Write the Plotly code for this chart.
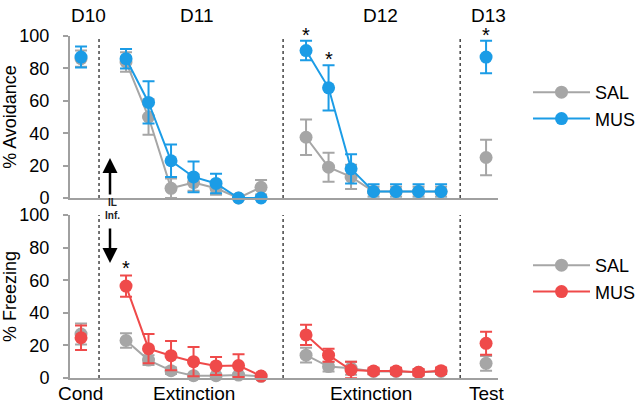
import plotly.graph_objects as go

# x positions: 0 = Cond (D10), 2..8 = D11 extinction, 10..16 = D12 extinction, 18 = Test (D13)
x_pos = [0, 1, 2, 3, 4, 5, 6, 7, 8, 9, 10, 11, 12, 13, 14, 15, 16, 17, 18]

# Top panel: % Avoidance
avoid_sal = [86, None, 84, 50, 6, 9.5, 6, 0, 6.6, None, 37.5, 19, 13, 4, 4, 4, 4, None, 25]
avoid_sal_err = [5, None, 6, 11, 6, 5, 4, 0, 4.5, None, 11, 9, 7.5, 3, 3, 3, 3, None, 11]
avoid_mus = [87, None, 86, 59, 23, 13, 9, 0, 0, None, 91, 68, 18, 4, 4, 4, 4, None, 87]
avoid_mus_err = [6.5, None, 6, 13, 10, 9.5, 6, 0, 0, None, 6, 14, 9, 4.5, 4.5, 4.5, 4.5, None, 10]

# Bottom panel: % Freezing
freeze_sal = [27, None, 23, 11, 4.5, 1.4, 1.4, 1.8, 1, None, 14, 7, 6, 4, 4, 3.5, 4, None, 9]
freeze_sal_err = [6.5, None, 4.5, 3, 2, 1, 1, 1, 1, None, 4.5, 3, 4, 1.5, 1.5, 1.5, 1.5, None, 4.5]
freeze_mus = [24.7, None, 56.4, 18, 13.7, 10, 7.4, 7.6, 1.2, None, 26.4, 14, 4.9, 4.3, 4.3, 3.5, 4.5, None, 21.3]
freeze_mus_err = [7.5, None, 6.5, 9, 9, 9, 5.5, 7, 1, None, 6.2, 4, 5, 2, 2, 2, 2, None, 7]

# significance markers (x position, y value where asterisk sits)
avoid_star_x = [10, 11, 18]
avoid_star_y = [97, 82, 97]
freeze_star_x = [2]
freeze_star_y = [63]

session_dividers = [0.8, 8.98, 16.85]
day_labels = ["D10", "D11", "D12", "D13"]
phase_labels = ["Cond", "Extinction", "Extinction", "Test"]

GRAY = "#a6a6a6"
BLUE = "#1b9ce6"
RED = "#ef4a4a"
AXIS = "#a0a0a0"
FONT = "Liberation Sans, Arial, sans-serif"

fig = go.Figure()

def add(y, err, color, name, xa, ya, legend):
    fig.add_trace(go.Scatter(
        x=x_pos, y=y, mode="lines+markers", name=name,
        line=dict(color=color, width=2),
        marker=dict(color=color, size=13),
        error_y=dict(type="data", array=err, color=color, thickness=2, width=6),
        xaxis=xa, yaxis=ya, legend=legend, cliponaxis=False, connectgaps=False,
        hoverinfo="skip",
    ))

add(avoid_sal, avoid_sal_err, GRAY, "SAL", "x", "y", "legend")
add(avoid_mus, avoid_mus_err, BLUE, "MUS", "x", "y", "legend")
add(freeze_sal, freeze_sal_err, GRAY, "SAL", "x2", "y2", "legend2")
add(freeze_mus, freeze_mus_err, RED, "MUS", "x2", "y2", "legend2")

xdom = [70 / 640, 498 / 640]
xrange_ = [-0.49, 18.53]
top_dom = [1 - 198 / 404, 1 - 36 / 404]
bot_dom = [1 - 378 / 404, 1 - 215 / 404]

xcommon = dict(domain=xdom, range=xrange_, showline=True, linecolor=AXIS, linewidth=2,
               showticklabels=False, ticks="", showgrid=False, zeroline=False, automargin=False)
ycommon = dict(range=[0, 100], tickvals=[0, 20, 40, 60, 80, 100], showline=True,
               linecolor=AXIS, linewidth=2, ticks="outside", ticklen=5, tickcolor=AXIS,
               tickwidth=2, showgrid=False, zeroline=False, automargin=False,
               ticklabelstandoff=10,
               tickfont=dict(family=FONT, size=18, color="black"),
               title_font=dict(family=FONT, size=18, color="black"), title_standoff=4)

shapes = []
for xd in session_dividers:
    for yref in ["y domain", "y2 domain"]:
        shapes.append(dict(type="line", xref="x", yref=yref, x0=xd, x1=xd, y0=0, y1=1,
                           line=dict(color="#444444", width=1.5, dash="3px,3px")))

annotations = []
for xs, ys in zip(avoid_star_x, avoid_star_y):
    annotations.append(dict(x=xs, y=ys, xref="x", yref="y", text="*", showarrow=False,
                            yanchor="bottom", font=dict(family=FONT, size=20, color="black"), yshift=-7))
for xs, ys in zip(freeze_star_x, freeze_star_y):
    annotations.append(dict(x=xs, y=ys, xref="x2", yref="y2", text="*", showarrow=False,
                            yanchor="bottom", font=dict(family=FONT, size=20, color="black"), yshift=-6))

for lab, px in zip(day_labels, [88, 196, 380, 488]):
    annotations.append(dict(x=px / 640, y=1 - 15 / 404, xref="paper", yref="paper", text=lab,
                            xanchor="center", yanchor="middle",
                            showarrow=False, font=dict(family=FONT, size=19, color="black")))
for lab, px in zip(phase_labels, [80, 194, 371, 487]):
    annotations.append(dict(x=px / 640, y=1 - 393 / 404, xref="paper", yref="paper", text=lab,
                            xanchor="center", yanchor="middle",
                            showarrow=False, font=dict(family=FONT, size=19, color="black")))

# IL infusion arrows and label
annotations.append(dict(x=110 / 640, y=1 - 158 / 404, xref="paper", yref="paper", text="",
                        showarrow=True, ax=0, ay=38, arrowhead=2, arrowsize=1.2, arrowwidth=2.5,
                        arrowcolor="black"))
annotations.append(dict(x=110 / 640, y=1 - 263 / 404, xref="paper", yref="paper", text="",
                        showarrow=True, ax=0, ay=-36, arrowhead=2, arrowsize=1.2, arrowwidth=2.5,
                        arrowcolor="black"))
annotations.append(dict(x=112 / 640, y=1 - 209 / 404, xref="paper", yref="paper",
                        text="<b>IL</b><br><b>Inf.</b>", showarrow=False,
                        xanchor="center", yanchor="middle",
                        font=dict(family=FONT, size=10, color="#222222")))

legend_font = dict(family=FONT, size=18, color="black")
fig.update_layout(
    template="none",
    width=640, height=404, margin=dict(l=0, r=0, t=0, b=0, pad=0, autoexpand=False),
    paper_bgcolor="white", plot_bgcolor="white",
    hovermode=False,
    xaxis=dict(anchor="y", **xcommon),
    yaxis=dict(domain=top_dom, anchor="x", title_text="% Avoidance", **ycommon),
    xaxis2=dict(anchor="y2", matches="x", **xcommon),
    yaxis2=dict(domain=bot_dom, anchor="x2", title_text="% Freezing", **ycommon),
    shapes=shapes, annotations=annotations,
    legend=dict(x=528 / 640, y=1 - 74 / 404, xanchor="left", yanchor="top",
                font=legend_font, bgcolor="rgba(0,0,0,0)", tracegroupgap=0, itemwidth=57),
    legend2=dict(x=528 / 640, y=1 - 247 / 404, xanchor="left", yanchor="top",
                 font=legend_font, bgcolor="rgba(0,0,0,0)", tracegroupgap=0, itemwidth=57),
    showlegend=True,
)

fig.write_html("out.html", config={"displayModeBar": False, "staticPlot": True},
               post_script="document.body.style.margin='0';")
